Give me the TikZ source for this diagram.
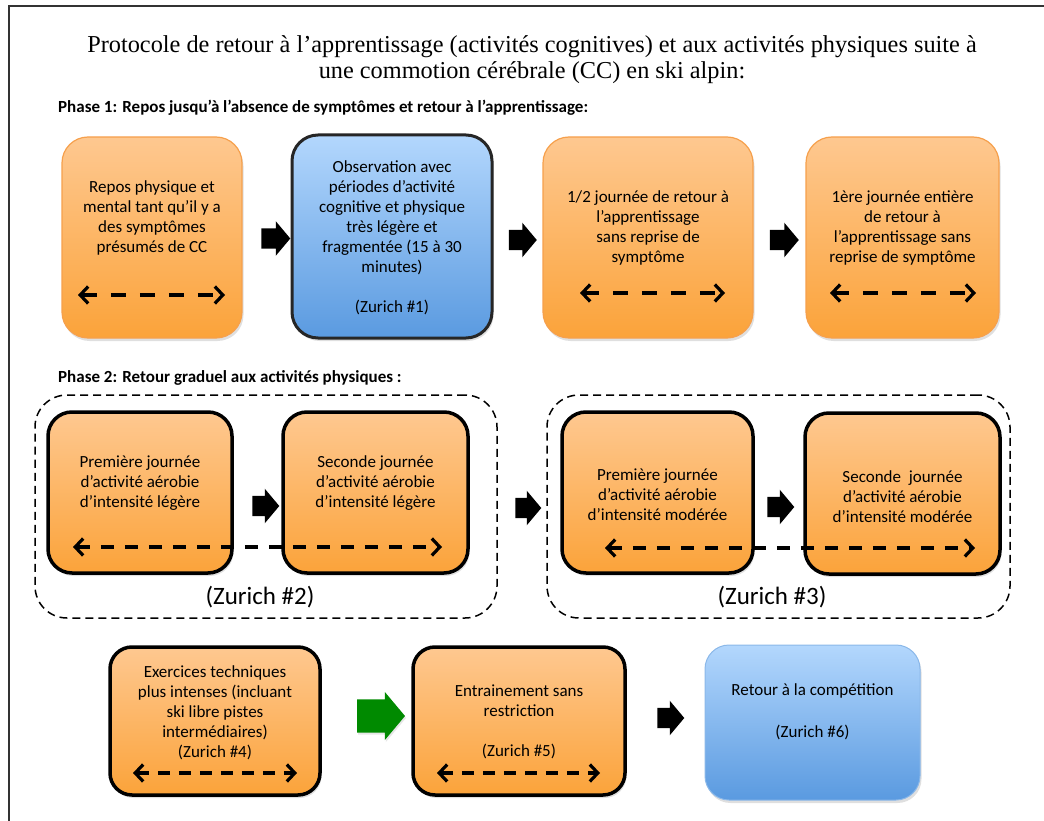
\documentclass[tikz,border=0pt]{standalone}
\usepackage{fontspec}
\setmainfont{Carlito}
\newfontfamily\titlefont{Liberation Serif}
\usetikzlibrary{shapes.arrows,arrows.meta,shadows}
\definecolor{otop}{HTML}{FEC890}
\definecolor{obot}{HTML}{FBA33A}
\definecolor{btop}{HTML}{B3D7FD}
\definecolor{bbot}{HTML}{5A9AE0}
\definecolor{oborder}{HTML}{F6A04C}
\definecolor{arrowgreen}{HTML}{008A00}
\tikzset{
 box/.style={rectangle, rounded corners=26pt, inner sep=0pt, top color=otop, bottom color=obot,
   drop shadow={opacity=0.25, shadow xshift=1.5pt, shadow yshift=-3pt}},
 obox/.style={box, draw=oborder, line width=1.2pt},
 kbox/.style={box, draw=black, line width=3.5pt, rounded corners=24pt},
 bbox/.style={box, top color=btop, bottom color=bbot},
 txt/.style={align=center, font=\fontsize{17}{20}\selectfont, inner sep=0pt},
 blk/.style={single arrow, fill=black, draw=none, inner xsep=0pt, inner ysep=10pt,
   minimum width=33pt, single arrow tip angle=100},
 dbl/.style={<->, line width=3.5pt, dash pattern=on 13pt off 11pt,
   >={Straight Barb[length=8pt,width=17pt,line width=3.2pt]}},
 grp/.style={draw, line width=1.5pt, rounded corners=32pt, dash pattern=on 8pt off 5pt},
 phase/.style={anchor=west, inner sep=0pt, font=\fontsize{17}{20}\selectfont\bfseries},
 zur/.style={inner sep=0pt, font=\fontsize{25}{28}\selectfont},
}
\begin{document}
\begin{tikzpicture}[x=1pt,y=-1pt]
\useasboundingbox (0,0) rectangle (1044,821);
% frame
\draw[line width=1.5pt, black!80] (1044,6) -- (9,6) -- (9,821);
% title
\node[align=center, inner sep=0pt, font=\titlefont\fontsize{24.3}{26}\selectfont] (title) at (532,60)
 {Protocole de retour à l’apprentissage (activités cognitives) et aux activités physiques suite à\\
  une commotion cérébrale (CC) en ski alpin:};
\node[phase] (ph1) at (58,108) {Phase 1: Repos jusqu’à l’absence de symptômes et retour à l’apprentissage:};
\node[phase] (ph2) at (58,378) {Phase 2: Retour graduel aux activités physiques :};

% Phase 1 boxes
\node[obox, minimum width=180pt, minimum height=201pt] (b1) at (152,237.5) {};
\node[bbox, draw=black!85, line width=3pt, minimum width=200pt, minimum height=203pt] (b2) at (392,236.5) {};
\node[obox, minimum width=210pt, minimum height=201pt] (b3) at (648,237.5) {};
\node[obox, minimum width=193pt, minimum height=201pt] (b4) at (902.5,237.5) {};
\node[txt] (t1) at (152,218) {Repos physique et\\mental tant qu'il y a\\des symptômes\\présumés de CC};
\node[txt] (t2) at (392,238) {Observation avec\\périodes d’activité\\cognitive et physique\\très légère et\\fragmentée (15 à 30\\minutes)\\[20pt](Zurich \#1)};
\node[txt] (t3) at (648,228) {1/2 journée de retour à\\l'apprentissage\\sans reprise de\\symptôme};
\node[txt] (t4) at (902.5,228) {1ère journée entière\\de retour à\\l'apprentissage sans\\reprise de symptôme};
\node[blk, minimum height=29pt] (a1) at (271.5,238.5) {};
\node[blk, minimum height=28pt] (a2) at (518.5,240) {};
\node[blk, minimum height=29pt] (a3) at (780,240) {};
\coordinate (d1a) at (78,295); \coordinate (d1b) at (225,295);
\coordinate (d3a) at (580,293); \coordinate (d3b) at (725,293);
\coordinate (d4a) at (830,293); \coordinate (d4b) at (976,293);
\draw[dbl, dash pattern=on 15pt off 14pt] (d1a) -- (d1b);
\draw[dbl, dash pattern=on 15pt off 14pt] (d3a) -- (d3b);
\draw[dbl, dash pattern=on 15pt off 14pt] (d4a) -- (d4b);

% Phase 2 groups
\node[grp, minimum width=462pt, minimum height=223pt] (g1) at (266,506.5) {};
\node[grp, minimum width=463pt, minimum height=223pt] (g2) at (778.5,506.5) {};
\node[kbox, minimum width=184pt, minimum height=161pt] (pA) at (140,492.5) {};
\node[kbox, minimum width=185pt, minimum height=161pt] (pB) at (375.5,492.5) {};
\node[kbox, minimum width=191pt, minimum height=161pt] (pC) at (657.5,492.5) {};
\node[kbox, minimum width=195pt, minimum height=161pt] (pD) at (902.5,493.5) {};
\node[txt] (tA) at (140,483) {Première journée\\d’activité aérobie\\d’intensité légère};
\node[txt] (tB) at (375.5,483) {Seconde journée\\d’activité aérobie\\d’intensité légère};
\node[txt] (tC) at (657.5,495) {Première journée\\d’activité aérobie\\d’intensité modérée};
\node[txt] (tD) at (902.5,497) {Seconde~ journée\\d’activité aérobie\\d’intensité modérée};
\node[blk, minimum height=27pt] (a4) at (261.5,506) {};
\node[blk, minimum height=26pt] (a5) at (524,508) {};
\node[blk, minimum height=27pt] (a6) at (776.5,507) {};
\coordinate (e1a) at (73,547); \coordinate (e1b) at (442,547);
\coordinate (e2a) at (605,548); \coordinate (e2b) at (975,548);
\draw[dbl] (e1a) -- (e1b);
\draw[dbl] (e2a) -- (e2b);
\node[zur] (z2) at (260,597) {(Zurich \#2)};
\node[zur] (z3) at (772,597) {(Zurich \#3)};

% Row 3
\node[kbox, rounded corners=22pt, minimum width=210pt, minimum height=148pt] (r1) at (215,721) {};
\node[kbox, rounded corners=22pt, minimum width=212pt, minimum height=148pt] (r2) at (519,721) {};
\node[bbox, draw=bbot!70!white, line width=1pt, rounded corners=24pt, minimum width=215pt, minimum height=155pt] (r3) at (812.5,722.5) {};
\node[txt] (s1) at (215,713) {Exercices techniques\\plus intenses (incluant\\ski libre pistes\\intermédiaires)\\(Zurich \#4)};
\node[txt] (s2) at (519,722) {Entrainement sans\\restriction\\[20pt](Zurich \#5)};
\node[txt] (s3) at (812.5,712) {Retour à la compétition\\[22pt](Zurich \#6)};
\node[single arrow, fill=arrowgreen, draw=none, inner xsep=0pt, inner ysep=16pt, minimum width=48pt,
  minimum height=48pt, single arrow tip angle=100,
  drop shadow={opacity=0.2, shadow xshift=1pt, shadow yshift=-2pt}] (ag) at (374,716) {};
\node[blk, inner ysep=10pt, minimum width=31pt, minimum height=27pt] (a8) at (666.5,718) {};
\coordinate (f1a) at (133,773); \coordinate (f1b) at (297,773);
\coordinate (f2a) at (437,773); \coordinate (f2b) at (600,773);
\draw[dbl, dash pattern=on 12pt off 9pt] (f1a) -- (f1b);
\draw[dbl, dash pattern=on 12pt off 9pt] (f2a) -- (f2b);
\end{tikzpicture}
\end{document}
